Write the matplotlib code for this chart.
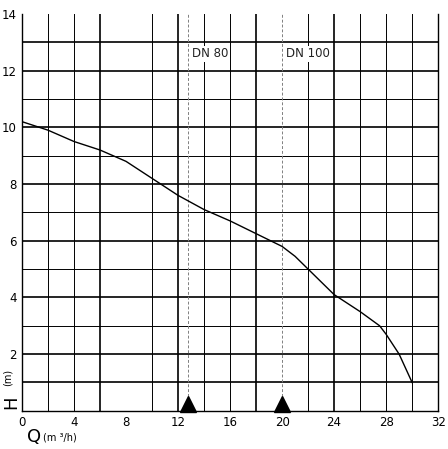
import numpy as np
import matplotlib.pyplot as plt

# pump curve (Q m3/h, H m)
q = [0, 2, 4, 6, 7, 8, 10, 12, 14, 16, 18, 20, 21, 22, 24, 26, 27.5, 28, 29, 30]
h = [10.2, 9.9, 9.5, 9.2, 9.0, 8.8, 8.2, 7.6, 7.1, 6.7, 6.25, 5.8, 5.45, 5.0, 4.1, 3.5, 3.0, 2.7, 2.0, 1.0]

dn_pos = [12.8, 20]
dn_labels = ["DN 80", "DN 100"]

vlines = [2, 4, 6, 10, 12, 14, 16, 18, 22, 24, 26, 28, 30]
vthick = [6, 12, 18, 24]
hlines = list(range(1, 14))
hthick = [1, 2, 4, 6, 8, 10, 12, 13]

xticks = [0, 4, 8, 12, 16, 20, 24, 28, 32]
yticks = [2, 4, 6, 8, 10, 12, 14]

fig = plt.figure(figsize=(4.48, 4.49), dpi=100)
ax = fig.add_axes([0.049, 0.085, 0.929, 0.884])

for x in vlines:
    ax.axvline(x, color="black", lw=1.2 if x in vthick else 0.7, zorder=1)
for y in hlines:
    ax.axhline(y, color="black", lw=1.2 if y in hthick else 0.7, zorder=1)

for x, lab in zip(dn_pos, dn_labels):
    ax.axvline(x, color="gray", lw=0.7, ls=(0, (3, 2)), zorder=1)
    ax.text(x + 0.3, 12.6, lab, fontsize=8.5, ha="left", va="center", color="#222222",
            bbox=dict(facecolor="white", edgecolor="none", pad=1))
    ax.plot(x, 0.25, marker="^", color="black", ms=11, clip_on=False, zorder=3)

ax.plot(q, h, color="black", lw=1.0, zorder=2)

ax.set_xlim(0, 32)
ax.set_ylim(0, 14)
ax.set_xticks(xticks)
ax.set_yticks(yticks)
ax.tick_params(length=0, labelsize=8.5, pad=4)
ax.spines["top"].set_visible(False)
for s in ["left", "right", "bottom"]:
    ax.spines[s].set_linewidth(1.0)

fig.text(0.005, 0.105, "H", fontsize=13, rotation=90, va="center")
fig.text(0.005, 0.16, "(m)", fontsize=7, rotation=90, va="center")
fig.text(0.06, 0.015, "Q", fontsize=13)
fig.text(0.095, 0.02, "(m ³/h)", fontsize=7)

fig.savefig("out.png", dpi=100)
